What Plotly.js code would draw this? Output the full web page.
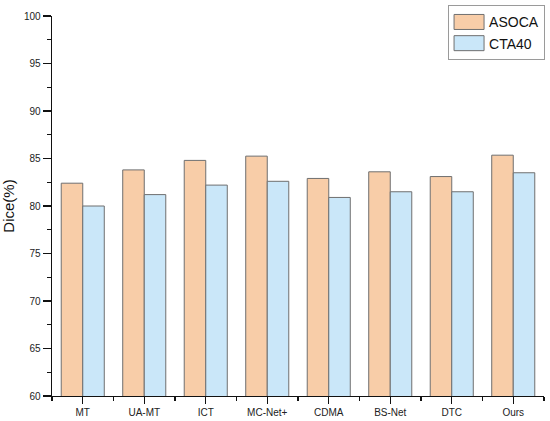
<!DOCTYPE html>
<html>
<head>
<meta charset="utf-8">
<script src="https://cdn.plot.ly/plotly-3.0.1.min.js"></script>
<style>
html,body{margin:0;padding:0;background:#fff;}
#chart{width:550px;height:421px;}
</style>
</head>
<body>
<div id="chart"></div>
<script>
const categories = ["MT", "UA-MT", "ICT", "MC-Net+", "CDMA", "BS-Net", "DTC", "Ours"];
const asoca = [82.4, 83.8, 84.8, 85.25, 82.9, 83.6, 83.1, 85.35];
const cta40 = [80.0, 81.2, 82.2, 82.6, 80.9, 81.5, 81.5, 83.5];
const seriesNames = ["ASOCA", "CTA40"];
const yTicks = [60, 65, 70, 75, 80, 85, 90, 95, 100];

const xIdx = categories.map((c, i) => i);
const lineCol = "#6f6f6f";

const traces = [
  {type: "bar", name: seriesNames[0], x: xIdx, y: asoca,
   marker: {color: "#F8CDA8", line: {color: lineCol, width: 1}}},
  {type: "bar", name: seriesNames[1], x: xIdx, y: cta40,
   marker: {color: "#CAE7F9", line: {color: lineCol, width: 1}}}
];

const layout = {
  width: 550, height: 421,
  margin: {l: 52, r: 5, t: 14, b: 25},
  paper_bgcolor: "#fff", plot_bgcolor: "#fff",
  font: {family: "Liberation Sans, Arial, sans-serif", color: "#222"},
  barmode: "group", bargap: 0.3, bargroupgap: 0,
  showlegend: true,
  legend: {x: 0.805, y: 1.028, xanchor: "left", yanchor: "top",
           bordercolor: "#9a9a9a", borderwidth: 1, bgcolor: "#fff",
           font: {size: 14, color: "#111"}, tracegroupgap: 0,
           itemwidth: 30},
  xaxis: {
    range: [-0.5, 7.5], tickvals: xIdx, ticktext: categories,
    showgrid: false, zeroline: false, showline: true, linecolor: "#111", linewidth: 1.3,
    ticks: "outside", ticklen: 7, tickcolor: "#111", tickwidth: 1.2,
    tickfont: {size: 10, color: "#222"},
    minor: {tick0: 0.5, dtick: 1, ticks: "outside", ticklen: 4, tickcolor: "#111", tickwidth: 1.2, showgrid: false}
  },
  yaxis: {
    range: [60, 100], tickvals: yTicks,
    showgrid: false, zeroline: false, showline: true, linecolor: "#111", linewidth: 1.3,
    ticks: "outside", ticklen: 8, tickcolor: "#111", tickwidth: 1.2,
    tickfont: {size: 10, color: "#222"},
    minor: {dtick: 2.5, tick0: 60, ticks: "outside", ticklen: 4, tickcolor: "#111", tickwidth: 1.2, showgrid: false},
    title: {text: "Dice(%)", font: {size: 15, color: "#111"}, standoff: 8}
  }
};

Plotly.newPlot("chart", traces, layout, {displayModeBar: false, staticPlot: true}).then(function (gd) {
  // widen legend swatches to match the reference's rectangular keys
  gd.querySelectorAll(".legend .legendpoints path").forEach(function (p) {
    p.setAttribute("d", "M15,7.5H-15V-7.5H15Z");
  });
});
</script>
</body>
</html>
